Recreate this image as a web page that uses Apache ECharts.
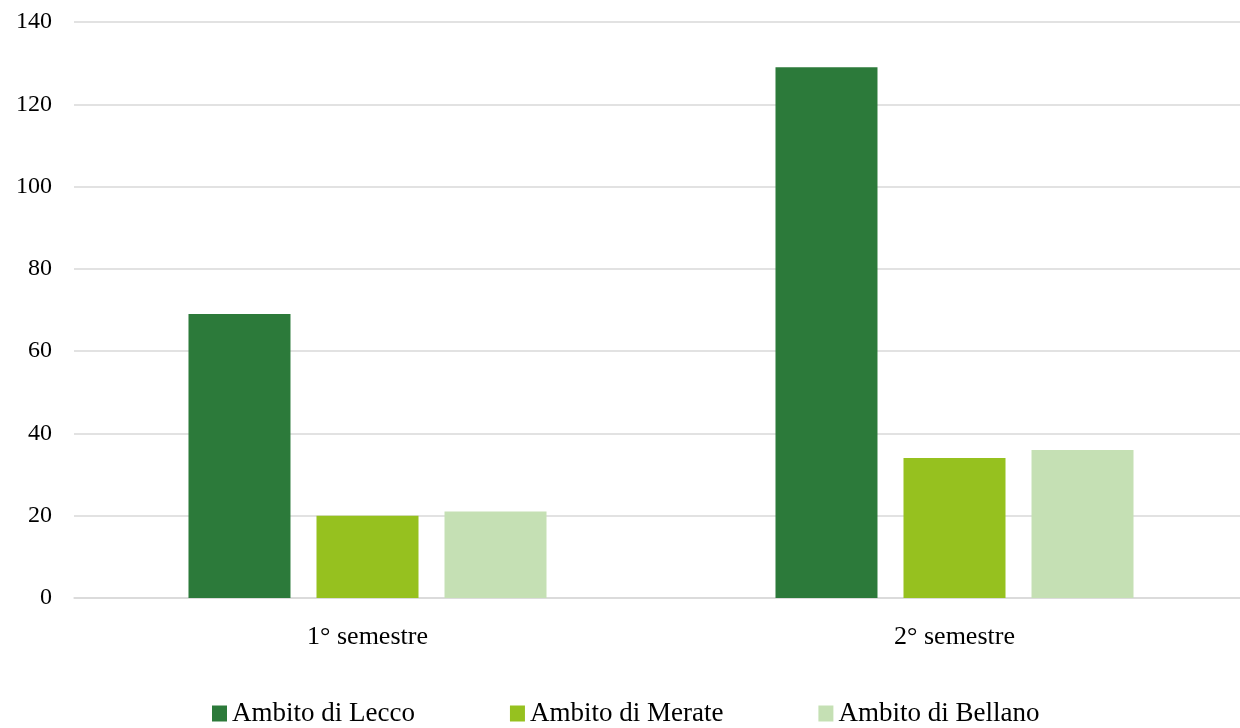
<!DOCTYPE html>
<html>
<head>
<meta charset="utf-8">
<script src="https://cdn.jsdelivr.net/npm/echarts@6/dist/echarts.min.js"></script>
<style>
  html, body { margin: 0; padding: 0; background: #fff; }
  #chart { width: 1240px; height: 728px; }
</style>
</head>
<body>
<div id="chart"></div>
<script>
const categories = ['1° semestre', '2° semestre'];
const seriesNames = ['Ambito di Lecco', 'Ambito di Merate', 'Ambito di Bellano'];
const lecco = [69, 129];
const merate = [20, 34];
const bellano = [21, 36];
const colors = ['#2C7A3A', '#96C11F', '#C5E0B4'];

const font = '"Liberation Serif", "DejaVu Serif", serif';

const chart = echarts.init(document.getElementById('chart'), null, { renderer: 'canvas' });

const makeSeries = function(name, data, color) {
  return {
    name: name,
    type: 'bar',
    data: data,
    barWidth: 102,
    barGap: '25.5%',
    barCategoryGap: '38%',
    itemStyle: { color: color }
  };
};

chart.setOption({
  animation: false,
  backgroundColor: '#ffffff',
  grid: { left: 74, right: -8, top: 22, bottom: 130, outerBoundsMode: 'none' },
  legend: {
    bottom: 1,
    left: 212,
    padding: 0,
    itemWidth: 15,
    itemHeight: 16,
    itemGap: 95,
    icon: 'rect',
    textStyle: { fontFamily: font, fontSize: 27, color: '#000' },
    data: seriesNames
  },
  xAxis: {
    type: 'category',
    data: categories,
    axisLine: { lineStyle: { color: '#D9D9D9', width: 1.5 } },
    axisTick: { show: false },
    axisLabel: { fontFamily: font, fontSize: 26, color: '#000', margin: 26 }
  },
  yAxis: {
    type: 'value',
    min: 0,
    max: 140,
    interval: 20,
    axisLine: { show: false },
    axisTick: { show: false },
    splitLine: { lineStyle: { color: '#D9D9D9', width: 1.5 } },
    axisLabel: { fontFamily: font, fontSize: 24, color: '#000', margin: 22 }
  },
  series: [
    makeSeries(seriesNames[0], lecco, colors[0]),
    makeSeries(seriesNames[1], merate, colors[1]),
    makeSeries(seriesNames[2], bellano, colors[2])
  ]
});
</script>
</body>
</html>
